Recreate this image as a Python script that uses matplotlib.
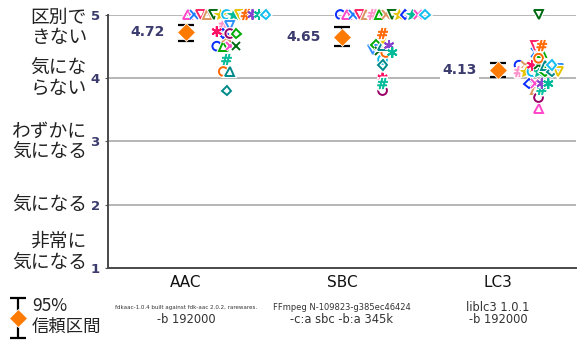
import matplotlib
matplotlib.use("Agg")
import matplotlib.pyplot as plt
import matplotlib.patheffects as pe
from matplotlib.transforms import blended_transform_factory
from matplotlib import font_manager
import numpy as np

CODECS = ["AAC", "SBC", "LC3"]
ENCODERS = [
    "fdkaac-1.0.4 built against fdk-aac 2.0.2, rarewares.",
    "FFmpeg N-109823-g385ec46424",
    "liblc3 1.0.1",
]
OPTIONS = ["-b 192000", "-c:a sbc -b:a 345k", "-b 192000"]

MEANS = [4.72, 4.65, 4.13]
CI_LOW = [4.58, 4.50, 4.01]
CI_HIGH = [4.84, 4.80, 4.24]

SCALE_TICKS = [1, 2, 3, 4, 5]
SCALE_LABELS = ["非常に\n気になる", "気になる", "わずかに\n気になる", "気にな\nらない", "区別で\nきない"]

# one marker / colour per listener (28 listeners)
LISTENER_MARKERS = ["o", "^", "x", "v", "^", "#", "^", "x", "v", "*",
                    "o", "D", "*", "x", "v", "o", "D", "ast", "x", "#",
                    "o", "^", "D", "v", "#", "ast", "ast", "D"]
LISTENER_COLORS = ["#0a2cff", "#ff45c8", "#1e7bff", "#ff2266", "#dd9560", "#ff8fc8",
                   "#00aa00", "#dd9560", "#006a10", "#e8c400", "#12bdf0", "#0a2cff",
                   "#00bb99", "#ff45c8", "#2f8fff", "#990066", "#00aa00", "#ff1166",
                   "#006a10", "#00bb99", "#ff6600", "#008a8a", "#008a8a", "#e8c400",
                   "#ff6600", "#8844cc", "#00bb99", "#12bdf0"]

AAC_SCORES = [4.50, 5.00, 5.00, 5.00, 5.00, 4.83, 4.50, 4.63, 5.00, 5.00,
              5.00, 4.70, 5.00, 4.50, 4.83, 4.70, 4.70, 4.73, 4.50, 4.29,
              4.10, 4.10, 3.80, 5.00, 5.00, 5.00, 5.00, 5.00]
SBC_SCORES = [5.00, 5.00, 5.00, 5.00, 5.00, 5.00, 5.00, 5.00, 5.00, 5.00,
              4.29, 5.00, 5.00, 5.00, 4.45, 3.80, 4.52, 4.00, 4.42, 3.91,
              4.40, 4.51, 4.20, 4.62, 4.70, 4.51, 4.40, 5.00]
LC3_SCORES = [4.20, 3.52, 4.40, 4.51, 3.82, 4.10, 4.40, 4.20, 5.00, 4.10,
              4.10, 3.91, 4.10, 3.91, 4.15, 3.69, 4.10, 4.20, 4.20, 3.82,
              4.31, 4.20, 4.10, 4.10, 4.51, 3.91, 3.91, 4.20]
SCORES = [AAC_SCORES, SBC_SCORES, LC3_SCORES]

NAVY = "#3b3b6e"
ORANGE = "#ff7a00"
JP_FONT = ["Noto Sans CJK JP", "DejaVu Sans"]

MARKER_MAP = {"#": "$\\#$", "ast": (6, 2, 0)}
MARKER_SIZE = {"o": 6.3, "^": 6.5, "v": 6.5, "D": 4.8, "x": 6, "*": 8.5, "#": 7.5, "ast": 7.5}


def row_swarm(values, center, spacing, tol=0.05):
    # group nearly equal scores into rows and spread each row sideways
    order = list(np.argsort(-np.asarray(values), kind="stable"))
    xs = np.zeros(len(values))
    rows = []
    for i in order:
        if rows and values[rows[-1][0]] - values[i] <= tol:
            rows[-1].append(i)
        else:
            rows.append([i])
    for row in rows:
        n = len(row)
        for j, i in enumerate(row):
            xs[i] = center + (j - (n - 1) / 2) * spacing
    return xs


fig = plt.figure(figsize=(5.86, 3.52), dpi=100)
ax = fig.add_axes([0.1843, 0.2386, 0.7986, 0.7202])
ax.set_xlim(-0.5, 2.5)
ax.set_ylim(1, 5)

px_x = 468 / 3.0   # pixels per x unit

for c, name in enumerate(CODECS):
    xs = row_swarm(SCORES[c], c + 0.26, 6.5 / px_x)
    for i, v in enumerate(SCORES[c]):
        m = LISTENER_MARKERS[i]
        mk = MARKER_MAP.get(m, m)
        col = LISTENER_COLORS[i]
        filled = m in ("*", "#")
        ax.plot(xs[i], v, marker=mk, markersize=MARKER_SIZE[m],
                markerfacecolor=col if filled else "none",
                markeredgecolor=col, markeredgewidth=1.4 if not filled else 0.6,
                linestyle="none", clip_on=False, zorder=4,
                path_effects=[pe.withStroke(linewidth=3, foreground="white")])

    ax.errorbar(c, MEANS[c], yerr=[[MEANS[c] - CI_LOW[c]], [CI_HIGH[c] - MEANS[c]]],
                fmt="none", ecolor="black", elinewidth=1.6, capsize=6, capthick=1.6,
                zorder=5)
    ax.plot(c, MEANS[c], marker="D", markersize=9, color=ORANGE,
            markeredgecolor="white", markeredgewidth=0.6, zorder=6)
    ax.text(c - 0.135, MEANS[c], f"{MEANS[c]:.2f}", ha="right", va="center",
            fontsize=10, fontweight="bold", color=NAVY, zorder=6,
            bbox=dict(facecolor="white", edgecolor="none", pad=1.5))

# axes styling
ax.set_yticks(SCALE_TICKS)
ax.set_yticklabels([str(t) for t in SCALE_TICKS], fontsize=9.5, fontweight="bold", color=NAVY)
ax.tick_params(axis="y", length=2, pad=4, color="#555555")
ax.set_xticks([])
ax.yaxis.grid(True, color="#a9a9a9", linewidth=1.2)
ax.set_axisbelow(True)
for s in ("top", "right"):
    ax.spines[s].set_visible(False)
for s in ("left", "bottom"):
    ax.spines[s].set_color("#4a4a4a")
    ax.spines[s].set_linewidth(1.4)

# Japanese scale labels on the left
ytrans = blended_transform_factory(ax.transAxes, ax.transData)
for t, lab in zip(SCALE_TICKS, SCALE_LABELS):
    va = "center"
    y = t
    if t == 5:
        va, y = "top", 5.12
    elif t == 1:
        va, y = "bottom", 0.93
    ax.text(-0.045, y, lab, transform=ytrans, ha="right", va=va,
            fontsize=13.5, family=JP_FONT, color="#222222", linespacing=0.95)

# category labels below
xtrans = blended_transform_factory(ax.transData, ax.transAxes)
sub_texts = []
for c, name in enumerate(CODECS):
    ax.text(c, -0.059, name, transform=xtrans, ha="center", va="center",
            fontsize=11, color="#111111")
    t1 = ax.text(c, -0.155, ENCODERS[c], transform=xtrans, ha="center", va="center",
                 fontsize=8.3, color="#333333")
    ax.text(c, -0.205, OPTIONS[c], transform=xtrans, ha="center", va="center",
            fontsize=8.3, color="#333333")
    sub_texts.append(t1)


def narrow_font():
    # pick the narrowest installed sans for long encoder strings
    for fam, stretch in (("Liberation Sans Narrow", "normal"),
                         ("Liberation Sans", "condensed"),
                         ("DejaVu Sans", "condensed")):
        fp = font_manager.FontProperties(family=fam, stretch=stretch)
        try:
            path = font_manager.findfont(fp, fallback_to_default=False)
        except Exception:
            continue
        if "arrow" in path.lower() or "ondensed" in path:
            return fp
    return font_manager.FontProperties(family="Liberation Sans")


fig.canvas.draw()
renderer = fig.canvas.get_renderer()
nfp = narrow_font()
for t in sub_texts:
    if t.get_window_extent(renderer).width > 146:
        t.set_fontproperties(nfp)
        fs = 8.0
        t.set_fontsize(fs)
        while t.get_window_extent(renderer).width > 140 and fs > 4.5:
            fs -= 0.1
            t.set_fontsize(fs)

# legend: 95% confidence interval key
lax = fig.add_axes([0, 11 / 352, 36 / 586, 46 / 352])
lax.set_xlim(-1, 1)
lax.set_ylim(-1.15, 1.15)
lax.axis("off")
lax.errorbar([0], [0], yerr=[1], fmt="none", ecolor="black", elinewidth=1.6,
             capsize=5.8, capthick=1.6)
lax.plot([0], [0], marker="D", markersize=9, color=ORANGE,
         markeredgecolor="white", markeredgewidth=0.6)
fig.text(32 / 586, 1 - 306 / 352, "95%", ha="left", va="center",
         fontsize=12.5, family=JP_FONT, color="#222222")
fig.text(32 / 586, 1 - 327 / 352, "信頼区間", ha="left", va="center",
         fontsize=12.5, family=JP_FONT, color="#222222")

fig.savefig("out.png", dpi=100)
